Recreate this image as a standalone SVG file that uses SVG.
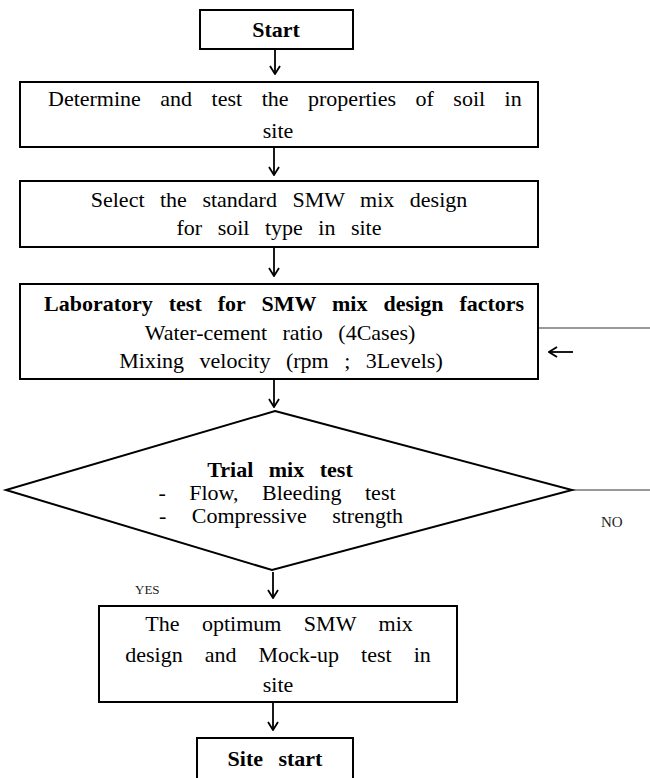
<svg xmlns="http://www.w3.org/2000/svg" width="650" height="778" viewBox="0 0 650 778">
  <defs>
    <!-- open V head, drawn pointing along +x so orient="auto" turns it to the line direction -->
    <marker id="head" viewBox="0 0 10 12" refX="9" refY="6" markerWidth="10" markerHeight="12" markerUnits="userSpaceOnUse" orient="auto">
      <path d="M1,1 L9,6 L1,11" fill="none" stroke="#000" stroke-width="1.8"/>
    </marker>
    <style>
      .box { fill: #fff; stroke: #000; stroke-width: 2; }
      .t { font-family: "Liberation Serif", "Times New Roman", serif; font-size: 22px; fill: #000; }
      .b { font-weight: bold; }
      .c { text-anchor: middle; }
      .ws { word-spacing: 10px; }
      .arrow { stroke: #000; stroke-width: 1.8; fill: none; marker-end: url(#head); }
      .back { stroke: #777; stroke-width: 1.5; fill: none; }
      .lbl { font-family: "Liberation Serif", "Times New Roman", serif; fill: #222; }
    </style>
  </defs>

  <rect width="650" height="778" fill="#fff"/>

  <!-- connectors -->
  <g id="connectors">
    <path class="arrow" d="M275,49 V74"/>
    <path class="arrow" d="M274,148 V175"/>
    <path class="arrow" d="M274,248 V276"/>
    <path class="arrow" d="M274,380 V407"/>
    <path class="arrow" d="M273,572 V598"/>
    <path class="arrow" d="M273,703 V730"/>
    <!-- NO branch returning to the laboratory step -->
    <path class="back" d="M572,490 H650"/>
    <path class="back" d="M538,328 H650"/>
    <path class="arrow" d="M573,352 H549"/>
    <text class="lbl" x="601" y="527" font-size="15">NO</text>
    <text class="lbl" x="135" y="594" font-size="13">YES</text>
  </g>

  <g id="start">
    <rect class="box" x="200" y="10" width="153" height="39"/>
    <text class="t b c" x="276" y="37">Start</text>
  </g>

  <g id="soil-properties">
    <rect class="box" x="20" y="82" width="518" height="65"/>
    <text class="t" x="48" y="106" style="word-spacing:14px">Determine and test the properties of soil in</text>
    <text class="t c" x="278" y="138">site</text>
  </g>

  <g id="standard-mix">
    <rect class="box" x="20" y="181" width="518" height="66"/>
    <text class="t c ws" x="279" y="207">Select the standard SMW mix design</text>
    <text class="t c ws" x="279" y="235">for soil type in site</text>
  </g>

  <g id="lab-test">
    <rect class="box" x="20" y="284" width="518" height="95"/>
    <text class="t b" x="44" y="311" style="word-spacing:10.5px">Laboratory test for SMW mix design factors</text>
    <text class="t c ws" x="280" y="340">Water-cement ratio (4Cases)</text>
    <text class="t c ws" x="281" y="368">Mixing velocity (rpm ; 3Levels)</text>
  </g>

  <g id="trial-mix">
    <polygon class="box" points="275,411 572,490 272,570 6,490"/>
    <text class="t b c ws" x="280" y="477">Trial mix test</text>
    <text class="t c" x="277" y="500" style="word-spacing:18px">- Flow, Bleeding test</text>
    <text class="t c" x="281" y="523" style="word-spacing:20px">- Compressive strength</text>
  </g>

  <g id="optimum-mix">
    <rect class="box" x="99" y="606" width="358" height="96"/>
    <text class="t c" x="279" y="631" style="word-spacing:17px">The optimum SMW mix</text>
    <text class="t c" x="278" y="662" style="word-spacing:16.5px">design and Mock-up test in</text>
    <text class="t c" x="278" y="692">site</text>
  </g>

  <g id="site-start">
    <rect class="box" x="197" y="738" width="156" height="42"/>
    <text class="t b c" x="275" y="766" style="word-spacing:10px">Site start</text>
  </g>
</svg>
